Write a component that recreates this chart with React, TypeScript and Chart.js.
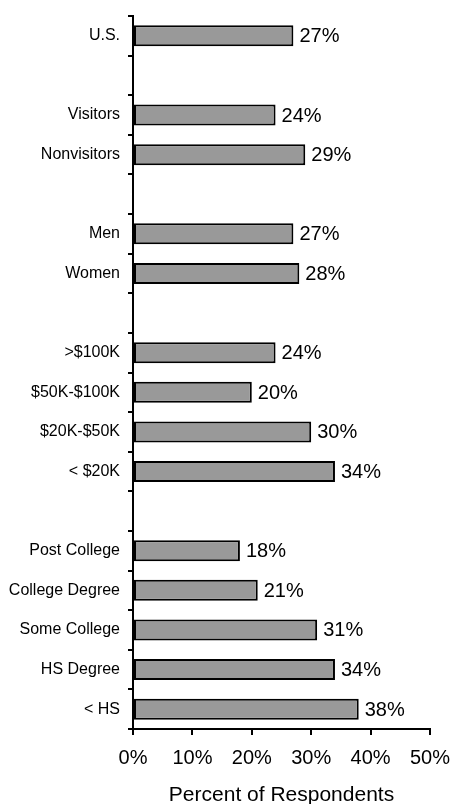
import React, { useEffect, useRef } from "react";
import { Chart, registerables } from "chart.js";

Chart.register(...registerables);

const categories: string[] = [
  "U.S.", "", "Visitors", "Nonvisitors", "", "Men", "Women", "",
  ">$100K", "$50K-$100K", "$20K-$50K", "< $20K", "",
  "Post College", "College Degree", "Some College", "HS Degree", "< HS",
];
const values: (number | null)[] = [
  27, null, 24, 29, null, 27, 28, null,
  24, 20, 30, 34, null,
  18, 21, 31, 34, 38,
];
const xTicks: number[] = [0, 10, 20, 30, 40, 50];
const xTitle = "Percent of Respondents";

const FONT = "Arial, 'Liberation Sans', sans-serif";

const valueLabels = {
  id: "valueLabels",
  afterDatasetsDraw(chart: any) {
    const ctx = chart.ctx;
    const meta = chart.getDatasetMeta(0);
    ctx.save();
    ctx.font = `20px ${FONT}`;
    ctx.fillStyle = "#000";
    ctx.textAlign = "left";
    ctx.textBaseline = "middle";
    meta.data.forEach((bar: any, i: number) => {
      const v = values[i];
      if (v === null || v === undefined) return;
      ctx.fillText(`${v}%`, bar.x + 6, bar.y + 1);
    });
    ctx.restore();
  },
};

export default function App() {
  const ref = useRef<HTMLCanvasElement>(null);
  useEffect(() => {
    if (!ref.current) return;
    const chart = new Chart(ref.current, {
      type: "bar",
      data: {
        labels: categories,
        datasets: [
          {
            data: values,
            backgroundColor: "#999999",
            borderColor: "#000000",
            borderWidth: 2,
            borderSkipped: false,
            barPercentage: 0.53,
            categoryPercentage: 1,
          },
        ],
      },
      options: {
        indexAxis: "y",
        animation: false,
        responsive: true,
        maintainAspectRatio: false,
        layout: { padding: { top: 16, right: 24, left: 0, bottom: 0 } },
        plugins: { legend: { display: false }, tooltip: { enabled: false } },
        scales: {
          x: {
            min: 0,
            max: 50,
            afterBuildTicks: (s: any) => {
              s.ticks = xTicks.map((v) => ({ value: v }));
            },
            afterFit: (s: any) => {
              s.height = 75;
              s.paddingLeft = 0;
              s.paddingRight = 0;
            },
            border: { display: true, color: "#000", width: 2 },
            grid: {
              display: true,
              drawOnChartArea: false,
              drawTicks: true,
              tickLength: 6,
              color: "#000",
              lineWidth: 2,
            },
            ticks: {
              color: "#000",
              font: { family: FONT, size: 20 },
              padding: 11,
              maxRotation: 0,
              callback: (v: any) => `${v}%`,
            },
            title: {
              display: true,
              text: xTitle,
              color: "#000",
              font: { family: FONT, size: 21 },
              padding: { top: 0, bottom: -4 },
            },
          },
          y: {
            type: "category",
            afterFit: (s: any) => {
              s.width = 133;
              s.paddingTop = 0;
              s.paddingBottom = 0;
            },
            border: { display: true, color: "#000", width: 2 },
            grid: {
              display: true,
              offset: true,
              drawOnChartArea: false,
              drawTicks: true,
              tickLength: 5,
              color: "#000",
              lineWidth: 2,
            },
            ticks: {
              color: "#000",
              font: { family: FONT, size: 16 },
              padding: 8,
              autoSkip: false,
            },
          },
        },
      },
      plugins: [valueLabels],
    } as any);
    return () => chart.destroy();
  }, []);
  return (
    <div style={{ position: "fixed", left: 0, top: 0, width: 454, height: 804, background: "#fff" }}>
      <canvas ref={ref} />
    </div>
  );
}
